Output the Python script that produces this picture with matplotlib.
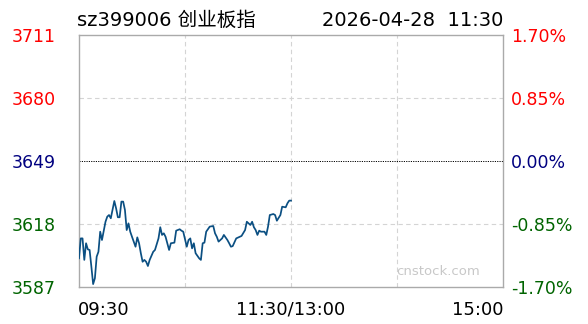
import matplotlib
matplotlib.use("Agg")
import numpy as np
import matplotlib.pyplot as plt

# ----- data -----
PREV_CLOSE = 3649.0
LIMIT_PCT = 1.70

# minutes since 09:30 (morning session only so far)
minutes = [0, 1, 2, 3, 4, 5, 6, 7, 8, 9, 10, 11, 12, 13, 15, 16, 17, 18, 20, 21,
           22, 23, 24, 25, 26, 27, 28, 29, 30, 32, 33, 34, 35, 36, 37, 38, 39, 40,
           42, 43, 45, 46, 47, 48, 49, 51, 52, 54, 55, 57, 58, 59, 61, 62, 63, 64,
           65, 66, 68, 69, 70, 71, 72, 74, 76, 77, 78, 79, 81, 82, 84, 85, 86, 87,
           89, 91, 92, 94, 95, 97, 98, 99, 100, 101, 102, 103, 105, 106, 107, 108,
           110, 111, 112, 114, 115, 117, 118, 119, 120]
prices = [3601.1, 3610.9, 3610.9, 3600.3, 3608.5, 3605.5, 3605.2, 3597.0, 3588.4, 3591.3,
          3601.9, 3604.3, 3614.2, 3610.1, 3619.1, 3621.6, 3622.4, 3620.8, 3629.3, 3625.7,
          3621.3, 3621.3, 3629.0, 3629.0, 3624.9, 3615.0, 3618.3, 3614.2, 3611.7, 3606.8,
          3611.4, 3608.5, 3603.6, 3599.4, 3600.3, 3599.4, 3597.3, 3600.3, 3604.3, 3605.2,
          3610.9, 3616.4, 3612.6, 3613.4, 3611.7, 3605.2, 3608.5, 3608.8, 3614.7, 3615.4,
          3614.7, 3614.2, 3606.8, 3610.1, 3610.9, 3606.0, 3608.5, 3603.6, 3601.1, 3600.3,
          3608.5, 3608.8, 3614.2, 3616.7, 3617.0, 3613.4, 3611.7, 3609.3, 3610.9, 3612.6,
          3610.1, 3608.5, 3606.8, 3607.1, 3610.9, 3611.7, 3612.1, 3615.0, 3619.1, 3617.5,
          3619.1, 3616.4, 3615.0, 3612.6, 3614.7, 3614.2, 3614.2, 3612.6, 3616.7, 3622.4,
          3622.9, 3622.4, 3619.6, 3622.4, 3626.5, 3626.2, 3628.2, 3629.5, 3629.5]

title_left = "sz399006 创业板指"
title_right = "2026-04-28  11:30"
time_labels = ["09:30", "11:30/13:00", "15:00"]

RED = "#ff0000"
NAVY = "#000080"
GREEN = "#006400"
LINE = "#0b4f82"
FONTS = ["DejaVu Sans", "Noto Sans CJK SC"]

plt.rcParams["font.family"] = FONTS

fig = plt.figure(figsize=(5.88, 3.24), dpi=100)
ax = fig.add_axes([79 / 588, 1 - 287 / 324, 424 / 588, 252 / 324])

lo = PREV_CLOSE * (1 - LIMIT_PCT / 100)
hi = PREV_CLOSE * (1 + LIMIT_PCT / 100)
ax.set_xlim(0, 240)
ax.set_ylim(lo, hi)

# grid
for m in (60, 120, 180):
    ax.axvline(m, color="#d4d4d4", lw=0.8, ls=(0, (4, 3)), zorder=1)
for p in (PREV_CLOSE * (1 + LIMIT_PCT / 200), PREV_CLOSE * (1 - LIMIT_PCT / 200)):
    ax.axhline(p, color="#d4d4d4", lw=0.8, ls=(0, (4, 3)), zorder=1)
ax.axhline(PREV_CLOSE, color="black", lw=0.7, ls=(0, (1.2, 1.2)), zorder=1)

ax.plot(minutes, prices, color=LINE, lw=1.25, zorder=3)

for s in ax.spines.values():
    s.set_color("#aaaaaa")
    s.set_linewidth(1.0)

# price ticks left, percent ticks right
yt = np.linspace(lo, hi, 5)
colors = [GREEN, GREEN, NAVY, RED, RED]
ax.set_yticks(yt)
ax.set_yticklabels([f"{v:.0f}" for v in yt], fontsize=12.5)
ax.tick_params(axis="y", length=0, pad=17)
for lab, c in zip(ax.get_yticklabels(), colors):
    lab.set_color(c)

ax2 = ax.twinx()
ax2.set_ylim(lo, hi)
ax2.set_yticks(yt)
pct = (yt / PREV_CLOSE - 1) * 100
ax2.set_yticklabels([f"{v:.2f}%".replace("-0.00", "0.00") for v in pct], fontsize=12.5)
ax2.tick_params(axis="y", length=0, pad=6)
for lab, c in zip(ax2.get_yticklabels(), colors):
    lab.set_color(c)
for s in ax2.spines.values():
    s.set_visible(False)

ax.set_xticks([])
fig.text(78 / 588, 1 - 310 / 324, time_labels[0], ha="left", va="center", fontsize=13)
fig.text(291 / 588, 1 - 310 / 324, time_labels[1], ha="center", va="center", fontsize=13)
fig.text(503 / 588, 1 - 310 / 324, time_labels[2], ha="right", va="center", fontsize=13)

fig.text(77 / 588, 1 - 20 / 324, title_left, ha="left", va="center", fontsize=14)
fig.text(503 / 588, 1 - 20 / 324, title_right, ha="right", va="center", fontsize=14)

ax.text(0.945, 0.06, "cnstock.com", transform=ax.transAxes, ha="right", va="center",
        fontsize=9.5, color="#c8c8c8")

fig.savefig("out.png", dpi=100)
